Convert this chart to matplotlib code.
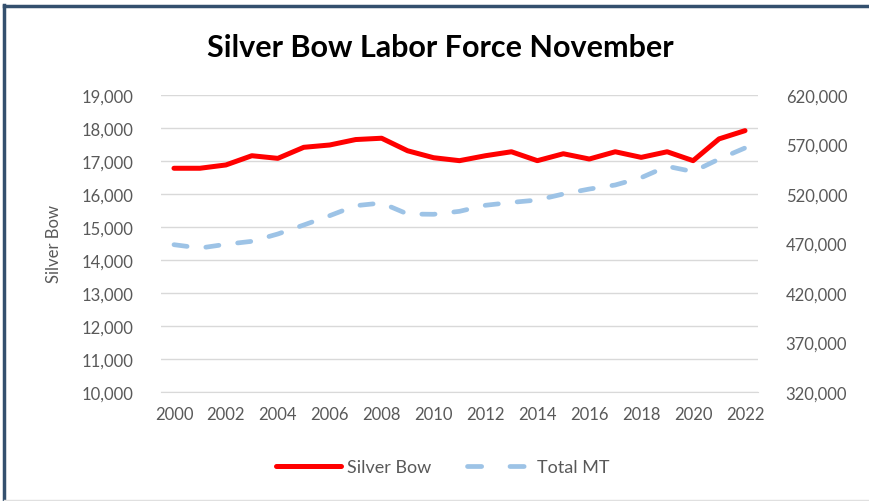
import matplotlib
matplotlib.use("Agg")
import matplotlib.pyplot as plt
from matplotlib.lines import Line2D
from matplotlib.ticker import FuncFormatter, MultipleLocator

years = list(range(2000, 2023))
silver_bow = [16780, 16780, 16880, 17160, 17080, 17415, 17485, 17650, 17690, 17310,
              17100, 17010, 17160, 17280, 17010, 17220, 17060, 17280, 17110, 17280,
              17010, 17670, 17920]
total_mt = [468800, 465400, 469200, 472200, 479600, 488700, 498100, 508200, 510900, 499800,
            499500, 502500, 508600, 511500, 513900, 520000, 525000, 529100, 536500, 548000,
            542600, 555300, 566500]
xtick_years = list(range(2000, 2023, 2))
right_ticks = list(range(320000, 620001, 50000))

plt.rcParams['font.family'] = ['Lato', 'DejaVu Sans']
gray = '#595959'
dash = (2.8, 4.0)
legend_dash = (3.0, 6.0)

fig = plt.figure(figsize=(8.69, 5.02), dpi=100)
ax = fig.add_axes([161/869, 1-393/502, (758-161)/869, (393-96)/502])
ax2 = ax.twinx()

ax.plot(years, silver_bow, color='#FF0000', lw=3.6, solid_capstyle='round', zorder=3)
ax2.plot(years, total_mt, color='#9DC3E6', lw=3.4, dashes=dash, dash_capstyle='round', zorder=2)

ax.set_xlim(1999.5, 2022.5)
ax.set_ylim(10000, 19000)
ax2.set_ylim(320000, 620000)
ax.yaxis.set_major_locator(MultipleLocator(1000))
ax2.set_yticks(right_ticks)
fmt = FuncFormatter(lambda v, p: f"{int(round(v)):,}")
ax.yaxis.set_major_formatter(fmt)
ax2.yaxis.set_major_formatter(fmt)
ax.set_xticks(xtick_years)
ax.set_xticklabels([str(y) for y in xtick_years])

ax.grid(axis='y', color='#D9D9D9', lw=1)
ax.set_axisbelow(True)
for a in (ax, ax2):
    for s in a.spines.values():
        s.set_visible(False)
    a.tick_params(length=0, labelsize=12, colors=gray)
ax.spines['bottom'].set_visible(True)
ax.spines['bottom'].set_color('#D9D9D9')
ax.tick_params(axis='y', pad=20)
ax2.tick_params(axis='y', pad=20)
ax.tick_params(axis='x', pad=10)

ax.set_ylabel('Silver Bow', color=gray, fontsize=12, labelpad=14)

fig.text(440/869, 1-48/502, 'Silver Bow Labor Force November', ha='center', va='center',
         fontsize=22, fontweight='bold', color='#000000')

handles = [Line2D([0], [0], color='#FF0000', lw=3.6, solid_capstyle='round'),
           Line2D([0], [0], color='#9DC3E6', lw=3.4, dashes=legend_dash, dash_capstyle='round')]
fig.legend(handles, ['Silver Bow', 'Total MT'], loc='center', bbox_to_anchor=(443/869, 1-468/502),
           ncol=2, frameon=False, fontsize=13, labelcolor=gray, handlelength=3.6,
           columnspacing=2.0, handletextpad=0.3)

fig.add_artist(Line2D([4/869, 4/869], [0, 1-6/502], transform=fig.transFigure, color='#34506E', lw=2.5))
fig.add_artist(Line2D([4/869, 1], [1-6.5/502, 1-6.5/502], transform=fig.transFigure, color='#34506E', lw=2.5))
fig.add_artist(Line2D([4/869, 1], [1/502, 1/502], transform=fig.transFigure, color='#E0E0E0', lw=1))

fig.savefig('out.png', dpi=100)
